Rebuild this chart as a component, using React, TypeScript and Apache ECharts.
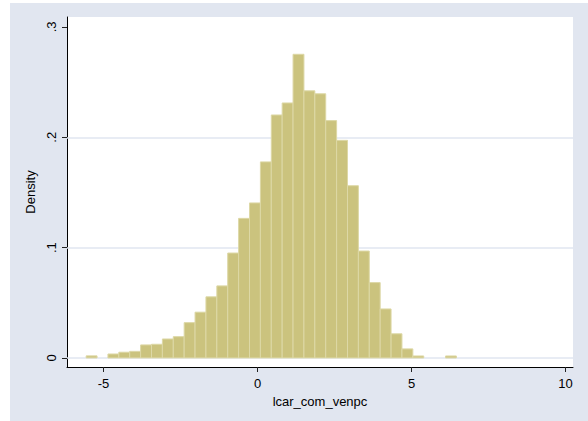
import React, { useEffect, useRef } from "react";
import * as echarts from "echarts";

// Histogram layout (bins)
const binStart = -5.564;
const binWidth = 0.3535;
// Density of each bin, left to right
const densities = [
  0.0019, 0, 0.0036, 0.0052, 0.006, 0.0118, 0.0124, 0.0172, 0.0193, 0.032,
  0.0415, 0.0554, 0.0653, 0.0951, 0.1265, 0.1405, 0.1777, 0.2202, 0.2311, 0.2752,
  0.2421, 0.2394, 0.2151, 0.1972, 0.1561, 0.0969, 0.0683, 0.0444, 0.0219, 0.0082,
  0.0018, 0, 0, 0.0018,
];
const xTicks = [-5, 0, 5, 10];
const yTicks = [0, 0.1, 0.2, 0.3];
const yGridValues = [0, 0.1, 0.2];
const xName = "lcar_com_venpc";
const yName = "Density";

const FONT = "'Liberation Sans', Arial, Helvetica, sans-serif";

export default function App() {
  const ref = useRef<HTMLDivElement>(null);
  useEffect(() => {
    if (!ref.current) return;
    const chart = echarts.init(ref.current, undefined, { renderer: "svg" });
    const data = densities.map((d, i) => [
      binStart + i * binWidth,
      binStart + (i + 1) * binWidth,
      d,
    ]);
    chart.setOption({
      animation: false,
      backgroundColor: "#ffffff",
      textStyle: { fontFamily: FONT },
      graphic: [
        {
          type: "rect",
          z: -10,
          silent: true,
          shape: { x: 10, y: 3, width: 578, height: 418 },
          style: { fill: "#E1E6F0" },
        },
      ],
      grid: {
        left: 67,
        top: 17,
        right: 15,
        bottom: 54,
        show: true,
        backgroundColor: "#ffffff",
        borderWidth: 0,
      },
      xAxis: {
        type: "value",
        min: -6.186,
        max: 10.24,
        name: xName,
        nameLocation: "middle",
        nameGap: 23,
        nameTextStyle: { fontSize: 13, color: "#000", fontFamily: FONT },
        axisLine: { show: true, onZero: false, lineStyle: { color: "#000", width: 1 } },
        axisTick: {
          show: true,
          customValues: xTicks,
          length: 5,
          lineStyle: { color: "#222" },
        },
        axisLabel: {
          customValues: xTicks,
          margin: 10,
          fontSize: 13,
          color: "#000",
          fontFamily: FONT,
          formatter: (v: number) => String(v),
        },
        splitLine: { show: false },
      },
      yAxis: {
        type: "value",
        min: -0.0082,
        max: 0.309,
        name: yName,
        nameLocation: "middle",
        nameGap: 22,
        nameTextStyle: { fontSize: 13, color: "#000", fontFamily: FONT },
        axisLine: { show: true, onZero: false, lineStyle: { color: "#000", width: 1 } },
        axisTick: {
          show: true,
          customValues: yTicks,
          length: 5,
          lineStyle: { color: "#222" },
        },
        axisLabel: {
          customValues: yTicks,
          rotate: 90,
          margin: 9,
          fontSize: 13,
          color: "#000",
          fontFamily: FONT,
          formatter: (v: number) =>
            Math.abs(v) < 1e-9 ? "0" : "." + Math.round(v * 10),
        },
        splitLine: { show: false },
      },
      series: [
        {
          type: "line",
          data: [],
          z: 1,
          silent: true,
          markLine: {
            silent: true,
            z: 1,
            symbol: "none",
            label: { show: false },
            lineStyle: { color: "#E1E6F0", width: 1.5, type: "solid" },
            data: yGridValues.map((v) => ({ yAxis: v })),
          },
        },
        {
          type: "custom",
          z: 10,
          data,
          renderItem: (params: any, api: any) => {
            const x0 = api.value(0);
            const x1 = api.value(1);
            const h = api.value(2);
            if (!h) return null;
            const p0 = api.coord([x0, 0]);
            const p1 = api.coord([x1, h]);
            return {
              type: "rect",
              shape: {
                x: p0[0],
                y: p1[1],
                width: p1[0] - p0[0],
                height: p0[1] - p1[1],
              },
              style: { fill: "#CBC37E", stroke: "#DDD8A6", lineWidth: 1 },
            };
          },
        },
      ],
    });
    return () => chart.dispose();
  }, []);
  return (
    <div
      ref={ref}
      style={{ position: "absolute", left: 0, top: 0, width: 588, height: 421 }}
    />
  );
}
